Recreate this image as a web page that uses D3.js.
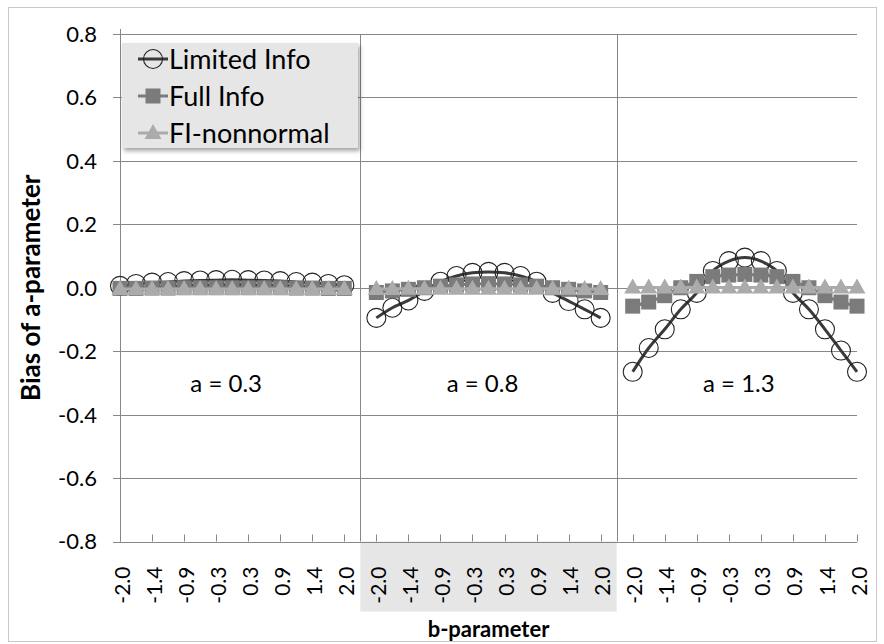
<!DOCTYPE html>
<html>
<head>
<meta charset="utf-8">
<script src="https://cdn.jsdelivr.net/npm/d3@7"></script>
<style>
  body { margin: 0; background: #fff; }
  text { font-family: Lato, "Open Sans", sans-serif; fill: #000; }
</style>
</head>
<body>
<div id="chart"></div>
<script>
// categories: b-parameter values in each panel, labels every other point
const bValues = [-2.0, -1.71, -1.43, -1.14, -0.86, -0.57, -0.29, 0.0, 0.29, 0.57, 0.86, 1.14, 1.43, 1.71, 2.0];
const bLabels = ["-2.0", "-1.4", "-0.9", "-0.3", "0.3", "0.9", "1.4", "2.0"];
const panels = ["a = 0.3", "a = 0.8", "a = 1.3"];
const yTicks = [-0.8, -0.6, -0.4, -0.2, 0.0, 0.2, 0.4, 0.6, 0.8];

// Limited Info
const limited03 = [0.006, 0.012, 0.016, 0.018, 0.021, 0.023, 0.024, 0.025, 0.024, 0.023, 0.021, 0.018, 0.016, 0.012, 0.008];
const limited08 = [-0.095, -0.063, -0.040, -0.010, 0.019, 0.037, 0.047, 0.050, 0.047, 0.037, 0.019, -0.016, -0.042, -0.068, -0.095];
const limited13 = [-0.265, -0.190, -0.131, -0.068, -0.016, 0.053, 0.084, 0.095, 0.084, 0.053, -0.016, -0.068, -0.131, -0.198, -0.265];
// Full Info
const full03 = [-0.002, -0.002, -0.001, -0.001, 0.0, 0.0, 0.0, 0.0, 0.0, 0.0, 0.0, -0.001, -0.001, -0.002, -0.002];
const full08 = [-0.015, -0.010, -0.005, 0.0, 0.005, 0.009, 0.012, 0.013, 0.012, 0.009, 0.005, 0.0, -0.005, -0.010, -0.015];
const full13 = [-0.058, -0.045, -0.025, 0.0, 0.020, 0.035, 0.040, 0.042, 0.040, 0.035, 0.020, 0.0, -0.025, -0.045, -0.058];
// FI-nonnormal
const fin03 = [-0.004, -0.004, -0.004, -0.004, -0.004, -0.004, -0.004, -0.004, -0.004, -0.004, -0.004, -0.004, -0.004, -0.004, -0.004];
const fin08 = [-0.004, -0.004, -0.003, -0.003, -0.003, -0.003, -0.003, -0.003, -0.003, -0.003, -0.003, -0.003, -0.003, -0.004, -0.004];
const fin13 = [0.001, 0.001, 0.001, 0.001, 0.001, 0.001, 0.001, 0.001, 0.001, 0.001, 0.001, 0.001, 0.001, 0.001, 0.001];

const series = [
  { name: "Limited Info", values: [limited03, limited08, limited13], color: "#3a3a3a", marker: "circle" },
  { name: "Full Info", values: [full03, full08, full13], color: "#7b7b7b", marker: "square" },
  { name: "FI-nonnormal", values: [fin03, fin08, fin13], color: "#ababab", marker: "triangle" }
];

const W = 884, H = 644;
const margin = { top: 34, right: 27, bottom: 102.5, left: 120 };

const svg = d3.select("#chart").append("svg")
  .attr("width", W).attr("height", H);

// category domain: 15 points per panel with one empty slot between panels
const cats = [];
panels.forEach((p, pi) => {
  if (pi > 0) cats.push("gap" + pi);
  bValues.forEach((b, bi) => cats.push(pi + "_" + bi));
});

const x = d3.scalePoint().domain(cats).range([margin.left, W - margin.right]);
const y = d3.scaleLinear().domain([-0.8, 0.8]).range([H - margin.bottom, margin.top]);
const x0 = margin.left, x1 = W - margin.right, yb = y(-0.8), yt = y(0.8);

// chart border
svg.append("rect").attr("x", 8.5).attr("y", 7.5).attr("width", 868).attr("height", 634)
  .attr("fill", "#fff").attr("stroke", "#c8c8c8");

// grey box under the middle panel's labels
svg.append("rect")
  .attr("x", x("gap1")).attr("y", yb)
  .attr("width", x("gap2") - x("gap1")).attr("height", 70)
  .attr("fill", "#e6e6e6");

// gridlines
svg.append("g").selectAll("line").data(yTicks).join("line")
  .attr("x1", x0 - 7).attr("x2", x1)
  .attr("y1", d => Math.round(y(d)) + 0.5).attr("y2", d => Math.round(y(d)) + 0.5)
  .attr("stroke", "#878787").attr("stroke-width", 1);

// y tick labels
svg.append("g").selectAll("text").data(yTicks).join("text")
  .attr("x", 97).attr("y", d => y(d)).attr("dy", "0.36em")
  .attr("text-anchor", "end").style("font-size", "22px")
  .text(d => d.toFixed(1));

// y axis line and panel dividers
svg.append("line").attr("x1", x0 + 0.5).attr("x2", x0 + 0.5).attr("y1", yt - 5).attr("y2", yb)
  .attr("stroke", "#878787");
["gap1", "gap2"].forEach(g => {
  svg.append("line").attr("x1", Math.round(x(g)) + 0.5).attr("x2", Math.round(x(g)) + 0.5)
    .attr("y1", yt).attr("y2", yb).attr("stroke", "#878787");
});

// x ticks and labels
const tickCats = [];
panels.forEach((p, pi) => bLabels.forEach((lab, li) => tickCats.push({ key: pi + "_" + (li * 2), label: lab })));
svg.append("g").selectAll("line").data(tickCats).join("line")
  .attr("x1", d => Math.round(x(d.key)) + 0.5).attr("x2", d => Math.round(x(d.key)) + 0.5)
  .attr("y1", yb - 7).attr("y2", yb).attr("stroke", "#878787");
svg.append("g").selectAll("text").data(tickCats).join("text")
  .attr("transform", d => `translate(${x(d.key) + 2},${yb + 25}) rotate(-90)`)
  .attr("dy", "0.36em").attr("text-anchor", "end").style("font-size", "21px")
  .text(d => d.label);

// panel labels
svg.append("g").selectAll("text").data(panels).join("text")
  .attr("x", (d, i) => (x(i + "_0") + x(i + "_14")) / 2 - 6)
  .attr("y", 392).attr("text-anchor", "middle").style("font-size", "24px")
  .text(d => d);

// markers
function drawMarker(sel, type, color) {
  if (type === "circle") {
    sel.append("circle").attr("r", 9.5).attr("fill", "none").attr("stroke", "#222").attr("stroke-width", 1.1);
  } else if (type === "square") {
    sel.append("rect").attr("x", -7.5).attr("y", -7.5).attr("width", 15).attr("height", 15).attr("fill", color);
  } else {
    sel.append("path").attr("d", "M0,-9L8.5,6L-8.5,6Z").attr("fill", color);
  }
}

const line = d3.line().x(d => d.x).y(d => d.y).curve(d3.curveCatmullRom);

series.forEach(s => {
  const g = svg.append("g");
  s.values.forEach((vals, pi) => {
    const pts = vals.map((v, bi) => ({ x: x(pi + "_" + bi), y: y(v) }));
    g.append("path").attr("d", line(pts)).attr("fill", "none")
      .attr("stroke", s.color).attr("stroke-width", 3);
    g.selectAll(null).data(pts).join("g")
      .attr("transform", d => `translate(${d.x},${d.y})`)
      .call(sel => drawMarker(sel, s.marker, s.color));
  });
});

// legend
const defs = svg.append("defs");
const f = defs.append("filter").attr("id", "shadow").attr("x", "-10%").attr("y", "-10%").attr("width", "130%").attr("height", "140%");
f.append("feDropShadow").attr("dx", 2).attr("dy", 3).attr("stdDeviation", 2).attr("flood-color", "#000").attr("flood-opacity", 0.35);

const legend = svg.append("g");
legend.append("rect").attr("x", 122).attr("y", 43).attr("width", 236).attr("height", 105)
  .attr("fill", "#e6e6e6").attr("filter", "url(#shadow)");
series.forEach((s, i) => {
  const cy = 59 + i * 37;
  const row = legend.append("g");
  row.append("line").attr("x1", 138).attr("x2", 168).attr("y1", cy).attr("y2", cy)
    .attr("stroke", s.color).attr("stroke-width", 3);
  row.append("g").attr("transform", `translate(153,${cy})`).call(sel => drawMarker(sel, s.marker, s.color));
  row.append("text").attr("x", 169).attr("y", cy).attr("dy", "0.36em")
    .style("font-size", "27px").text(s.name);
});

// axis titles
svg.append("text")
  .attr("transform", `translate(31,${(yt + yb) / 2}) rotate(-90)`)
  .attr("dy", "0.36em").attr("text-anchor", "middle")
  .style("font-size", "26px").style("font-weight", "bold")
  .text("Bias of a-parameter");
svg.append("text")
  .attr("x", (x("gap1") + x("gap2")) / 2).attr("y", 637)
  .attr("text-anchor", "middle").style("font-size", "22px").style("font-weight", "bold")
  .text("b-parameter");
</script>
</body>
</html>
